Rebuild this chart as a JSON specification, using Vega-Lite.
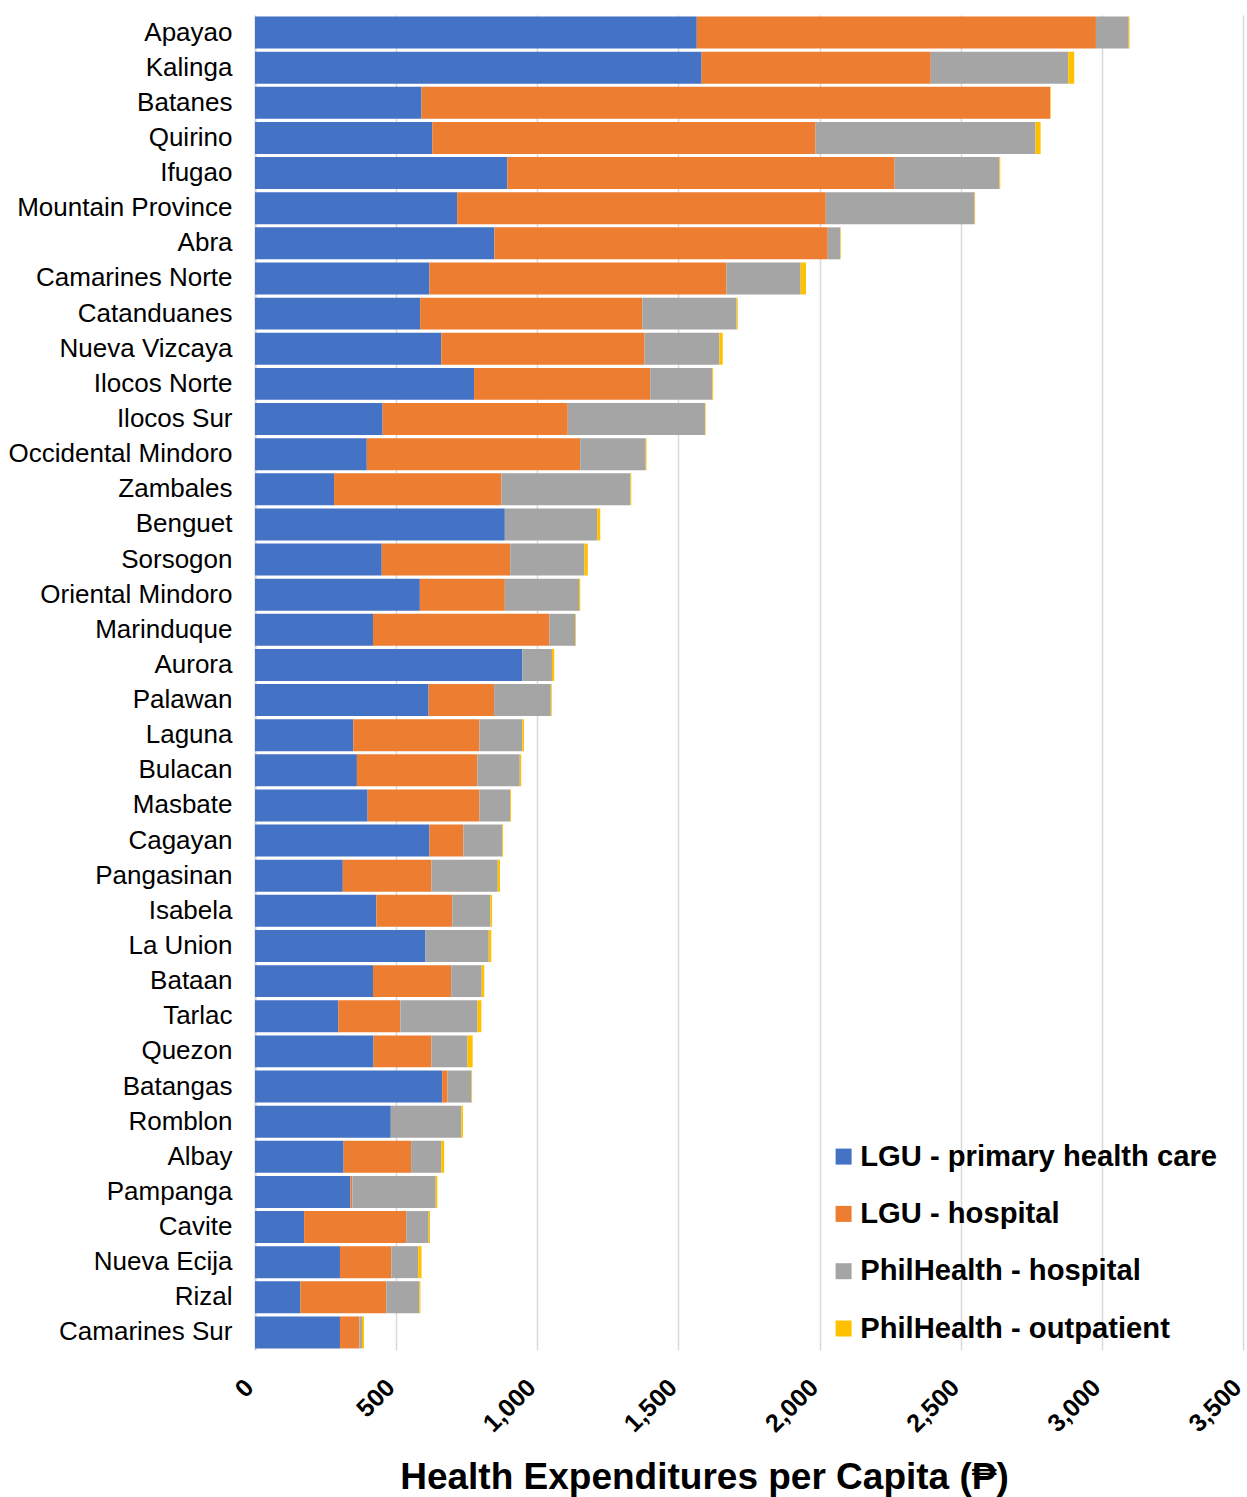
{
  "$schema": "https://vega.github.io/schema/vega-lite/v6.json",
  "autosize": {"type": "none"},
  "width": 988,
  "height": 1335,
  "padding": {"left": 255, "top": 15, "right": 4, "bottom": 147},
  "background": "white",
  "config": {"view": {"stroke": null}, "font": "Liberation Sans"},
  "datasets": {
    "cats": [
      {"category": "LGU - primary health care", "k": 1},
      {"category": "LGU - hospital", "k": 2},
      {"category": "PhilHealth - hospital", "k": 3},
      {"category": "PhilHealth - outpatient", "k": 4}
    ]
  },
  "data": {"values": [
    {"province": "Apayao", "LGU - primary health care": 1565, "LGU - hospital": 1414, "PhilHealth - hospital": 116, "PhilHealth - outpatient": 3},
    {"province": "Kalinga", "LGU - primary health care": 1582, "LGU - hospital": 812, "PhilHealth - hospital": 487, "PhilHealth - outpatient": 21},
    {"province": "Batanes", "LGU - primary health care": 590, "LGU - hospital": 2227, "PhilHealth - hospital": 0, "PhilHealth - outpatient": 2},
    {"province": "Quirino", "LGU - primary health care": 628, "LGU - hospital": 1358, "PhilHealth - hospital": 779, "PhilHealth - outpatient": 18},
    {"province": "Ifugao", "LGU - primary health care": 894, "LGU - hospital": 1372, "PhilHealth - hospital": 371, "PhilHealth - outpatient": 3},
    {"province": "Mountain Province", "LGU - primary health care": 716, "LGU - hospital": 1306, "PhilHealth - hospital": 527, "PhilHealth - outpatient": 2},
    {"province": "Abra", "LGU - primary health care": 848, "LGU - hospital": 1181, "PhilHealth - hospital": 44, "PhilHealth - outpatient": 2},
    {"province": "Camarines Norte", "LGU - primary health care": 618, "LGU - hospital": 1052, "PhilHealth - hospital": 263, "PhilHealth - outpatient": 19},
    {"province": "Catanduanes", "LGU - primary health care": 585, "LGU - hospital": 787, "PhilHealth - hospital": 334, "PhilHealth - outpatient": 4},
    {"province": "Nueva Vizcaya", "LGU - primary health care": 660, "LGU - hospital": 720, "PhilHealth - hospital": 265, "PhilHealth - outpatient": 12},
    {"province": "Ilocos Norte", "LGU - primary health care": 776, "LGU - hospital": 624, "PhilHealth - hospital": 220, "PhilHealth - outpatient": 3},
    {"province": "Ilocos Sur", "LGU - primary health care": 452, "LGU - hospital": 656, "PhilHealth - hospital": 486, "PhilHealth - outpatient": 2},
    {"province": "Occidental Mindoro", "LGU - primary health care": 396, "LGU - hospital": 756, "PhilHealth - hospital": 232, "PhilHealth - outpatient": 3},
    {"province": "Zambales", "LGU - primary health care": 280, "LGU - hospital": 593, "PhilHealth - hospital": 457, "PhilHealth - outpatient": 3},
    {"province": "Benguet", "LGU - primary health care": 885, "LGU - hospital": 0, "PhilHealth - hospital": 327, "PhilHealth - outpatient": 11},
    {"province": "Sorsogon", "LGU - primary health care": 449, "LGU - hospital": 455, "PhilHealth - hospital": 263, "PhilHealth - outpatient": 12},
    {"province": "Oriental Mindoro", "LGU - primary health care": 584, "LGU - hospital": 301, "PhilHealth - hospital": 263, "PhilHealth - outpatient": 4},
    {"province": "Marinduque", "LGU - primary health care": 418, "LGU - hospital": 625, "PhilHealth - hospital": 92, "PhilHealth - outpatient": 2},
    {"province": "Aurora", "LGU - primary health care": 947, "LGU - hospital": 0, "PhilHealth - hospital": 105, "PhilHealth - outpatient": 8},
    {"province": "Palawan", "LGU - primary health care": 615, "LGU - hospital": 232, "PhilHealth - hospital": 201, "PhilHealth - outpatient": 3},
    {"province": "Laguna", "LGU - primary health care": 348, "LGU - hospital": 447, "PhilHealth - hospital": 152, "PhilHealth - outpatient": 6},
    {"province": "Bulacan", "LGU - primary health care": 361, "LGU - hospital": 427, "PhilHealth - hospital": 150, "PhilHealth - outpatient": 5},
    {"province": "Masbate", "LGU - primary health care": 399, "LGU - hospital": 396, "PhilHealth - hospital": 109, "PhilHealth - outpatient": 3},
    {"province": "Cagayan", "LGU - primary health care": 618, "LGU - hospital": 120, "PhilHealth - hospital": 138, "PhilHealth - outpatient": 3},
    {"province": "Pangasinan", "LGU - primary health care": 311, "LGU - hospital": 314, "PhilHealth - hospital": 235, "PhilHealth - outpatient": 8},
    {"province": "Isabela", "LGU - primary health care": 430, "LGU - hospital": 269, "PhilHealth - hospital": 135, "PhilHealth - outpatient": 6},
    {"province": "La Union", "LGU - primary health care": 604, "LGU - hospital": 0, "PhilHealth - hospital": 224, "PhilHealth - outpatient": 9},
    {"province": "Bataan", "LGU - primary health care": 418, "LGU - hospital": 277, "PhilHealth - hospital": 108, "PhilHealth - outpatient": 9},
    {"province": "Tarlac", "LGU - primary health care": 295, "LGU - hospital": 220, "PhilHealth - hospital": 273, "PhilHealth - outpatient": 14},
    {"province": "Quezon", "LGU - primary health care": 420, "LGU - hospital": 205, "PhilHealth - hospital": 128, "PhilHealth - outpatient": 18},
    {"province": "Batangas", "LGU - primary health care": 663, "LGU - hospital": 19, "PhilHealth - hospital": 85, "PhilHealth - outpatient": 2},
    {"province": "Romblon", "LGU - primary health care": 481, "LGU - hospital": 0, "PhilHealth - hospital": 250, "PhilHealth - outpatient": 6},
    {"province": "Albay", "LGU - primary health care": 314, "LGU - hospital": 239, "PhilHealth - hospital": 107, "PhilHealth - outpatient": 10},
    {"province": "Pampanga", "LGU - primary health care": 338, "LGU - hospital": 7, "PhilHealth - hospital": 295, "PhilHealth - outpatient": 6},
    {"province": "Cavite", "LGU - primary health care": 174, "LGU - hospital": 362, "PhilHealth - hospital": 79, "PhilHealth - outpatient": 5},
    {"province": "Nueva Ecija", "LGU - primary health care": 301, "LGU - hospital": 182, "PhilHealth - hospital": 95, "PhilHealth - outpatient": 12},
    {"province": "Rizal", "LGU - primary health care": 161, "LGU - hospital": 304, "PhilHealth - hospital": 117, "PhilHealth - outpatient": 4},
    {"province": "Camarines Sur", "LGU - primary health care": 301, "LGU - hospital": 69, "PhilHealth - hospital": 9, "PhilHealth - outpatient": 7}
  ]},
  "transform": [
    {"fold": ["LGU - primary health care", "LGU - hospital", "PhilHealth - hospital", "PhilHealth - outpatient"], "as": ["category", "value"]},
    {"lookup": "category", "from": {"data": {"name": "cats"}, "key": "category", "fields": ["k"]}}
  ],
  "mark": {"type": "bar"},
  "encoding": {
    "y": {
      "field": "province", "type": "nominal",
      "sort": ["Apayao", "Kalinga", "Batanes", "Quirino", "Ifugao", "Mountain Province", "Abra", "Camarines Norte", "Catanduanes", "Nueva Vizcaya", "Ilocos Norte", "Ilocos Sur", "Occidental Mindoro", "Zambales", "Benguet", "Sorsogon", "Oriental Mindoro", "Marinduque", "Aurora", "Palawan", "Laguna", "Bulacan", "Masbate", "Cagayan", "Pangasinan", "Isabela", "La Union", "Bataan", "Tarlac", "Quezon", "Batangas", "Romblon", "Albay", "Pampanga", "Cavite", "Nueva Ecija", "Rizal", "Camarines Sur"],
      "scale": {"paddingInner": 0.09, "paddingOuter": 0.045},
      "axis": {"title": null, "labelFontSize": 26, "labelColor": "black", "labelFont": "Liberation Sans", "labelLimit": 0, "ticks": false, "tickSize": 0, "labelPadding": 23, "domainColor": "#D9D9D9", "domainWidth": 2, "grid": false}
    },
    "x": {
      "field": "value", "type": "quantitative", "stack": "zero",
      "scale": {"domain": [0, 3500], "nice": false},
      "axis": {
        "values": [0, 500, 1000, 1500, 2000, 2500, 3000, 3500],
        "format": ",d", "labelAngle": -45, "labelAlign": "right", "labelBaseline": "middle", "labelOffset": -6, "labelFontSize": 25, "labelFontWeight": "bold", "labelColor": "black", "labelFont": "Liberation Sans",
        "grid": true, "gridColor": "#D9D9D9", "gridWidth": 1.5, "domain": false, "ticks": false, "tickSize": 0, "labelPadding": 33,
        "title": "Health Expenditures per Capita (₱)", "titleFontSize": 37, "titleFontWeight": "bold", "titleColor": "black", "titleFont": "Liberation Sans",
        "titleX": 449, "titleY": 138, "titleAlign": "center", "titleBaseline": "alphabetic", "titleAnchor": "middle"
      }
    },
    "color": {
      "field": "category", "type": "nominal",
      "scale": {"domain": ["LGU - primary health care", "LGU - hospital", "PhilHealth - hospital", "PhilHealth - outpatient"], "range": ["#4472C4", "#ED7D31", "#A5A5A5", "#FFC000"]},
      "legend": {"orient": "none", "legendX": 574, "legendY": 1127, "title": null, "labelFontSize": 29.2, "labelFontWeight": "bold", "labelColor": "black", "labelFont": "Liberation Sans", "labelLimit": 0, "symbolType": "square", "symbolSize": 256, "symbolStrokeWidth": 0, "rowPadding": 27.3, "labelOffset": 2}
    },
    "order": {"field": "k", "type": "quantitative"}
  }
}
